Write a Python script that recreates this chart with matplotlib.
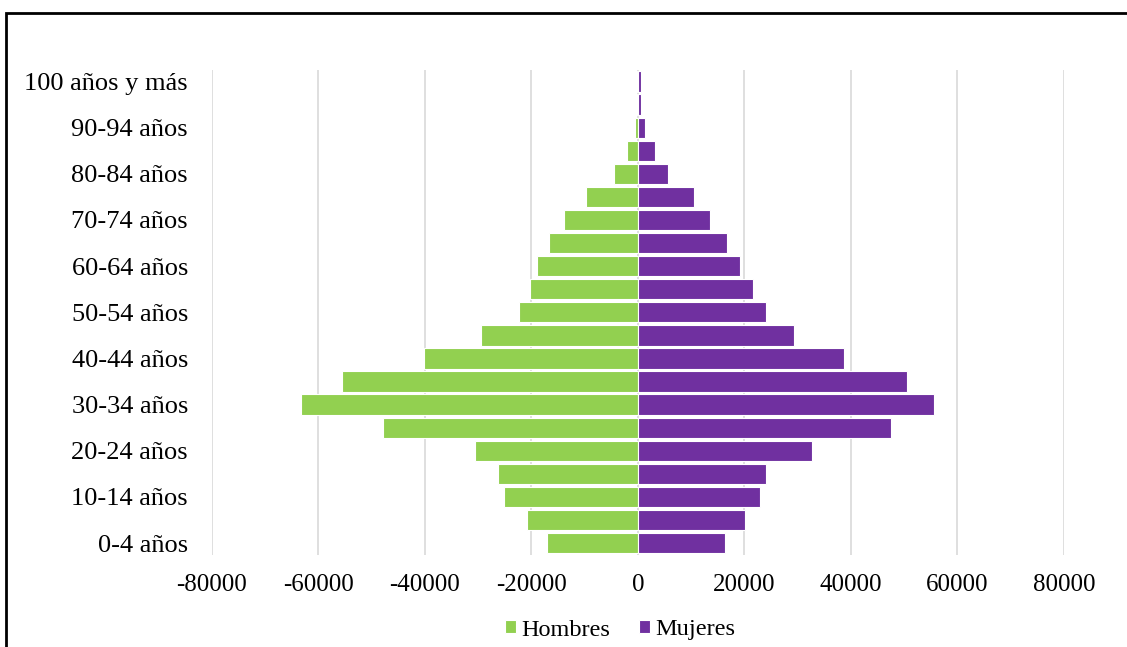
import matplotlib
matplotlib.use("Agg")
import matplotlib.pyplot as plt
from matplotlib.patches import Rectangle
import numpy as np

# Age groups, bottom to top
grupos = ["0-4 años", "5-9 años", "10-14 años", "15-19 años", "20-24 años",
          "25-29 años", "30-34 años", "35-39 años", "40-44 años", "45-49 años",
          "50-54 años", "55-59 años", "60-64 años", "65-69 años", "70-74 años",
          "75-79 años", "80-84 años", "85-89 años", "90-94 años", "95-99 años",
          "100 años y más"]

hombres = [17000, 20900, 25100, 26250, 30500, 47800, 63250, 55600, 40100, 29400,
           22400, 20200, 18900, 16700, 13900, 9800, 4400, 2100, 500, 150, 100]
mujeres = [16400, 20200, 22900, 24100, 32600, 47600, 55600, 50600, 38750, 29400,
           24100, 21700, 19100, 16700, 13600, 10600, 5600, 3300, 1300, 600, 500]

xticks = [-80000, -60000, -40000, -20000, 0, 20000, 40000, 60000, 80000]

plt.rcParams["font.family"] = ["Liberation Serif", "DejaVu Serif"]

fig = plt.figure(figsize=(11.27, 6.47), dpi=100)
ax = fig.add_axes([211.7 / 1127, 1 - 554.6 / 647, (1064 - 211.7) / 1127, (554.6 - 70) / 647])

y = np.arange(len(grupos))
green = "#92D050"
purple = "#7030A0"
ax.barh(y, [-v for v in hombres], height=0.88, color=green, edgecolor="white",
        linewidth=0.8, label="Hombres", zorder=3)
ax.barh(y, mujeres, height=0.88, color=purple, edgecolor="white",
        linewidth=0.8, label="Mujeres", zorder=3)

ax.set_xlim(-80000, 80000)
ax.set_ylim(-0.5, len(grupos) - 0.5)
ax.set_xticks(xticks)
ax.set_xticklabels([str(t) for t in xticks], fontsize=18)
ax.set_yticks(y[::2])
ax.set_yticklabels(grupos[::2], fontsize=19)
ax.tick_params(length=0)
ax.tick_params(axis="y", pad=17)
ax.tick_params(axis="x", pad=14)
ax.grid(axis="x", color="#d9d9d9", linewidth=1.2, zorder=0)
for s in ax.spines.values():
    s.set_visible(False)

ax.legend(loc="center", bbox_to_anchor=(620 / 1127, 1 - 630 / 647),
          bbox_transform=fig.transFigure, ncol=2, frameon=False, fontsize=17.5,
          handlelength=0.45, handleheight=0.45, handletextpad=0.2, columnspacing=1.2)

# outer frame (top and left edges visible)
fig.patches.append(Rectangle((6 / 1127, -0.1), 1.2, 1 - 12.5 / 647 + 0.1,
                             transform=fig.transFigure, fill=False,
                             edgecolor="black", linewidth=2))

fig.savefig("out.png", dpi=100)
